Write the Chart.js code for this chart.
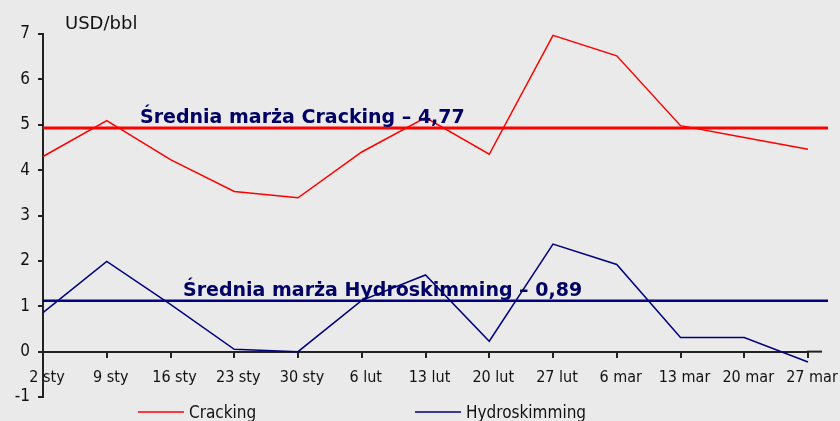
<!DOCTYPE html>
<html>
<head>
<meta charset="utf-8">
<script src="https://cdn.jsdelivr.net/npm/chart.js@4.4.1/dist/chart.umd.min.js"></script>
<style>
  html, body { margin: 0; padding: 0; background: #eaeaea; }
  canvas { display: block; }
</style>
</head>
<body>
<canvas id="chart" width="840" height="421"></canvas>
<script>
// margins in USD/bbl, weekly
var weeks = ["2 sty", "9 sty", "16 sty", "23 sty", "30 sty", "6 lut", "13 lut",
             "20 lut", "27 lut", "6 mar", "13 mar", "20 mar", "27 mar"];
var cracking = [4.30, 5.09, 4.23, 3.53, 3.39, 4.40, 5.16, 4.35, 6.97, 6.52, 4.98, 4.72, 4.46];
var hydroskimming = [0.86, 1.99, 1.04, 0.05, 0.00, 1.13, 1.69, 0.23, 2.37, 1.92, 0.31, 0.31, -0.23];

// average lines as drawn, and their captions
var crackingAvg = 4.93;
var hydroAvg = 1.12;
var crackingAvgText = "Średnia marża Cracking – 4,77";
var hydroAvgText = "Średnia marża Hydroskimming – 0,89";

var unitLabel = "USD/bbl";
var yMin = -1, yMax = 7;

var FONT = '"DejaVu Sans Condensed", "DejaVu Sans", sans-serif';
var WIDE = '"DejaVu Sans", sans-serif';
var RED = "#ff0000";
var NAVY = "#000080";
var TEXT_NAVY = "#000066";

var extras = {
  id: "extras",
  afterDatasetsDraw: function (chart) {
    var ctx = chart.ctx;
    var area = chart.chartArea;
    var y = chart.scales.y;
    var zeroY = y.getPixelForValue(0);

    ctx.save();
    // x axis runs a bit past the last point
    ctx.strokeStyle = "#222";
    ctx.lineWidth = 2;
    ctx.beginPath();
    ctx.moveTo(area.right - 1, zeroY);
    ctx.lineTo(area.right + 14, zeroY);
    ctx.stroke();

    // average lines
    [[crackingAvg, RED, 3, crackingAvgText, 140],
     [hydroAvg, NAVY, 2.5, hydroAvgText, 183]].forEach(function (a) {
      var py = y.getPixelForValue(a[0]);
      ctx.strokeStyle = a[1];
      ctx.lineWidth = a[2];
      ctx.beginPath();
      ctx.moveTo(area.left, py);
      ctx.lineTo(area.right + 20, py);
      ctx.stroke();
      ctx.fillStyle = TEXT_NAVY;
      ctx.font = "bold 19px " + WIDE;
      ctx.textAlign = "left";
      ctx.textBaseline = "alphabetic";
      ctx.fillText(a[3], a[4], py - 5);
    });

    // unit label
    ctx.fillStyle = "#111";
    ctx.font = "18px " + WIDE;
    ctx.fillText(unitLabel, 65, 29);

    // legend
    ctx.font = "17px " + FONT;
    var items = [[138, chart.data.datasets[0]], [415, chart.data.datasets[1]]];
    items.forEach(function (it) {
      ctx.strokeStyle = it[1].borderColor;
      ctx.lineWidth = 1.5;
      ctx.beginPath();
      ctx.moveTo(it[0], 412);
      ctx.lineTo(it[0] + 46, 412);
      ctx.stroke();
      ctx.fillStyle = "#111";
      ctx.fillText(it[1].label, it[0] + 51, 418);
    });
    ctx.restore();
  }
};

new Chart(document.getElementById("chart"), {
  type: "line",
  data: {
    labels: weeks,
    datasets: [
      { label: "Cracking", data: cracking, borderColor: RED, borderWidth: 1.5,
        pointRadius: 0, tension: 0 },
      { label: "Hydroskimming", data: hydroskimming, borderColor: NAVY, borderWidth: 1.5,
        pointRadius: 0, tension: 0 }
    ]
  },
  options: {
    responsive: false,
    animation: false,
    devicePixelRatio: 1,
    layout: { padding: { top: 34, left: 0, right: 32, bottom: 24 } },
    plugins: { legend: { display: false }, tooltip: { enabled: false } },
    scales: {
      x: {
        type: "category",
        offset: false,
        position: { y: 0 },
        afterFit: function (s) { s.height = 0; s.paddingLeft = 0; s.paddingRight = 0; },
        grid: { drawOnChartArea: false, drawTicks: true, tickLength: 5, color: "#222", lineWidth: 2 },
        border: { color: "#222", width: 2 },
        ticks: { color: "#111", font: { family: FONT, size: 16 }, padding: 12, labelOffset: 4,
                 maxRotation: 0, autoSkip: false }
      },
      y: {
        min: yMin,
        max: yMax,
        afterFit: function (s) { s.width = 43; },
        grid: { drawOnChartArea: false, drawTicks: true, tickLength: 5, color: "#222", lineWidth: 2 },
        border: { color: "#222", width: 2 },
        ticks: { stepSize: 1, color: "#111", font: { family: FONT, size: 17 }, padding: 8 }
      }
    }
  },
  plugins: [extras]
});
</script>
</body>
</html>
